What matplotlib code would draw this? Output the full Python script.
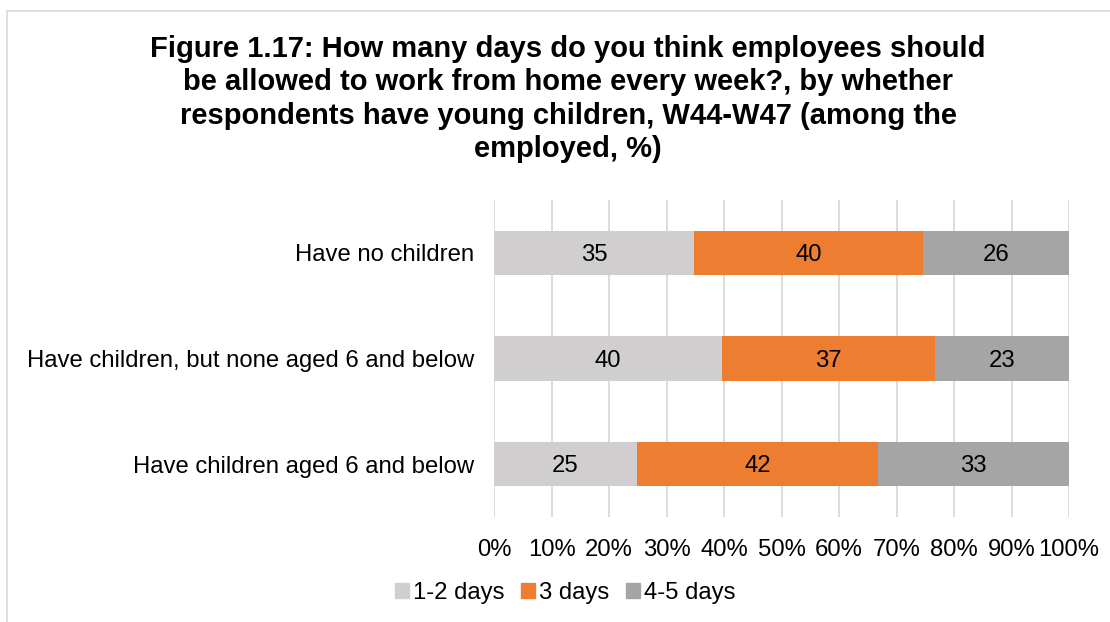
import matplotlib
matplotlib.use("Agg")
import matplotlib.pyplot as plt
from matplotlib.lines import Line2D

plt.rcParams['font.family'] = ['Liberation Sans', 'DejaVu Sans']

categories = ["Have no children", "Have children, but none aged 6 and below", "Have children aged 6 and below"]
series_names = ["1-2 days", "3 days", "4-5 days"]
values_12 = [34.8, 39.7, 24.9]
values_3 = [39.8, 37.0, 41.9]
values_45 = [25.4, 23.3, 33.2]
labels_12 = ["35", "40", "25"]
labels_3 = ["40", "37", "42"]
labels_45 = ["26", "23", "33"]
colors = ["#D0CECE", "#ED7D31", "#A5A5A5"]
xticks = list(range(0, 101, 10))

FS = 17.2

fig = plt.figure(figsize=(11.1, 6.22), dpi=100)
ax = fig.add_axes([494/1110, 1-517/622, (1069-494)/1110, (517-200)/622])

y = list(range(len(categories)))
left = [0, 0, 0]
for vals, labs, col, name in zip([values_12, values_3, values_45],
                                 [labels_12, labels_3, labels_45], colors, series_names):
    bars = ax.barh(y, vals, left=left, height=0.42, color=col, label=name, zorder=3)
    for b, lab in zip(bars, labs):
        ax.text(b.get_x() + b.get_width()/2, b.get_y() + b.get_height()/2 + 0.02, lab,
                ha='center', va='center', fontsize=FS, color='#000000', zorder=4)
    left = [l + v for l, v in zip(left, vals)]

ax.set_xlim(0, 100)
ax.set_ylim(2.5, -0.5)
ax.set_xticks(xticks)
ax.set_xticklabels([f"{t}%" for t in xticks], fontsize=FS)
ax.set_yticks(y)
ax.set_yticklabels(categories, fontsize=FS)
ax.tick_params(axis='x', length=0, pad=16)
ax.tick_params(axis='y', length=0, pad=14)
ax.grid(axis='x', color='#D9D9D9', linewidth=1.3, zorder=0)
for s in ax.spines.values():
    s.set_visible(False)

handles = [plt.Rectangle((0, 0), 1, 1, color=c) for c in colors]
fig.legend(handles, series_names, loc='center', bbox_to_anchor=(565/1110, 1-593/622),
           ncol=3, frameon=False, fontsize=FS, handlelength=0.6, handleheight=0.6,
           handletextpad=0.15, columnspacing=0.7)

fig.text(568/1110, 1-99/622,
         "Figure 1.17: How many days do you think employees should\n"
         "be allowed to work from home every week?, by whether\n"
         "respondents have young children, W44-W47 (among the\n"
         "employed, %)", ha='center', va='center', fontsize=21,
         fontweight='bold', linespacing=1.25)

fig.add_artist(Line2D([7/1110, 7/1110], [0, 1-11/622], transform=fig.transFigure,
                      color='#D9D9D9', linewidth=1.2))
fig.add_artist(Line2D([7/1110, 1], [1-11/622, 1-11/622], transform=fig.transFigure,
                      color='#D9D9D9', linewidth=1.2))

fig.savefig("out.png", dpi=100, facecolor='white')
